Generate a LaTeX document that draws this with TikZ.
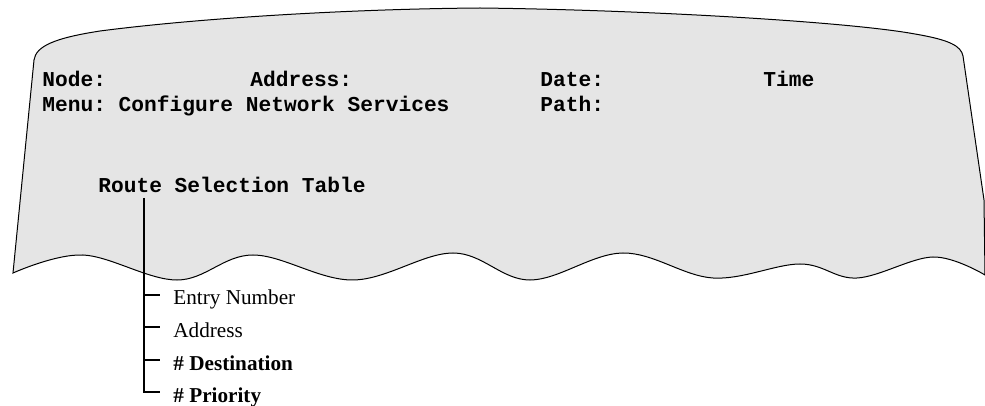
\documentclass[tikz,border=0pt]{standalone}
\usepackage{fontspec}
\setmainfont{Liberation Serif}
\setmonofont{Liberation Mono}
\tikzset{
  screen/.style={draw=black, line width=0.5pt, fill=black!10},
  scrtext/.style={anchor=base west, inner sep=0pt, font=\ttfamily\bfseries\fontsize{10.6}{12}\selectfont},
  fieldtext/.style={anchor=base west, inner sep=0pt, font=\fontsize{10.6}{12}\selectfont},
  treeline/.style={draw=black, line width=1pt},
}
\begin{document}
\begin{tikzpicture}[x=0.5pt, y=-0.5pt]
\useasboundingbox (0,0) rectangle (985,406);
% screen with torn lower edge
\path[screen] (13,273) -- (34,60) .. controls (36,46) and (55,38) .. (100,31)
  .. controls (200,18) and (350,9) .. (480,8)
  .. controls (650,10) and (850,22) .. (915,34)
  .. controls (950,40) and (961,46) .. (963,56) -- (984,200) -- (985,275)
  -- plot[smooth, tension=0.6] coordinates {(985,275) (933,257) (857,278) (800,264) (713,278) (623,253) (530,280) (453,253) (353,280) (253,255) (177,280) (83,255) (13,273)}
  -- cycle;
% screen texts
\node[scrtext] (node) at (42,87) {Node:};
\node[scrtext] (addr) at (250,87) {Address:};
\node[scrtext] (date) at (540,87) {Date:};
\node[scrtext] (time) at (763,87) {Time};
\node[scrtext] (menu) at (42,112) {Menu: Configure Network Services};
\node[scrtext] (path) at (540,112) {Path:};
\node[scrtext] (route) at (98,193) {Route Selection Table};
% fields of the table
\coordinate (top) at (144,198);
\coordinate (t1) at (160,295);
\coordinate (t2) at (160,327);
\coordinate (t3) at (160,360);
\coordinate (t4) at (160,392);
\node[fieldtext] (entry) at (173,305) {Entry Number};
\node[fieldtext] (faddr) at (173,337) {Address};
\node[fieldtext] (dest) at (173,370) {\textbf{\# Destination}};
\node[fieldtext] (prio) at (173,402) {\textbf{\# Priority}};
\draw[treeline] (top) |- (t4);
\draw[treeline] (top |- t1) -- (t1);
\draw[treeline] (top |- t2) -- (t2);
\draw[treeline] (top |- t3) -- (t3);
\end{tikzpicture}
\end{document}
